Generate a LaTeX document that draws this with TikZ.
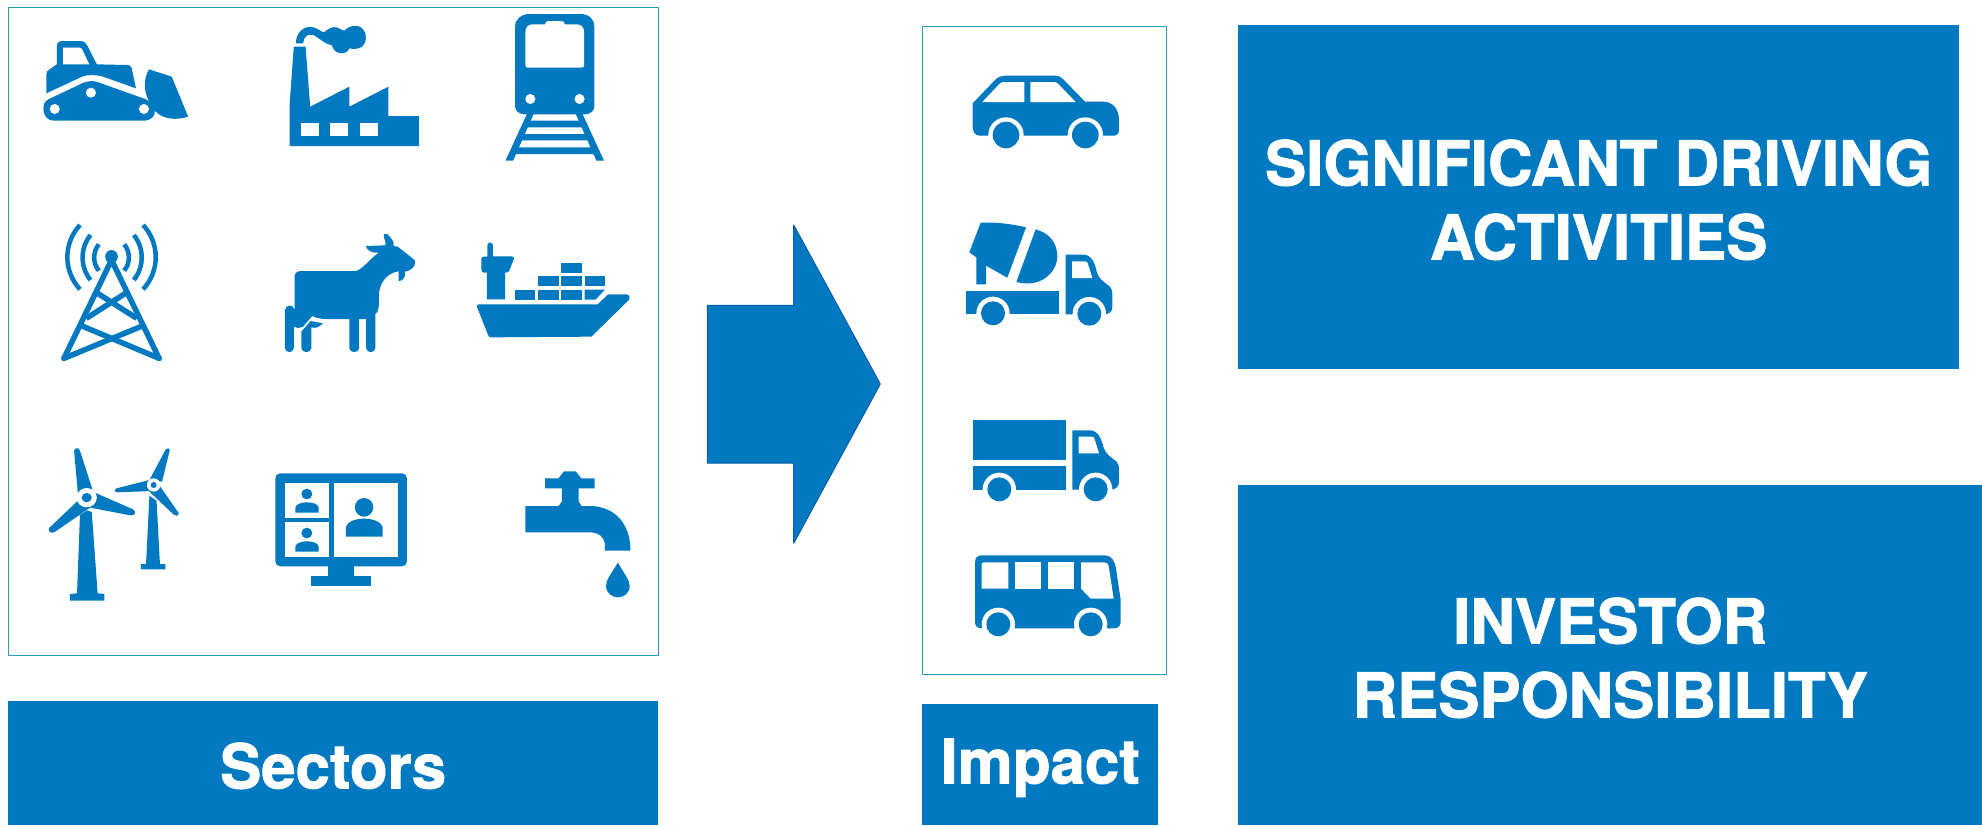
\documentclass[tikz,border=0pt]{standalone}
\usepackage{fontspec}
\setmainfont{TeX Gyre Heros}[BoldFeatures={FakeBold=1.5}]
\definecolor{brand}{HTML}{0079C1}
\definecolor{frameteal}{HTML}{2F9CBF}
\definecolor{arrowedge}{HTML}{0A5CA6}
\newcommand{\lowertext}{\rule{0pt}{51pt}}
\tikzset{
  ico/.style={fill=brand,draw=none},
  hole/.style={fill=white,draw=none},
  icoline/.style={draw=brand,fill=none},
  framebox/.style={draw=frameteal,line width=1.3pt,fill=white,rectangle,inner sep=0pt,anchor=north west},
  banner/.style={fill=brand,draw=none,rectangle,inner sep=0pt,anchor=north west,text=white,align=center,font=\fontsize{61.7}{74}\selectfont\bfseries},
  iconswide/.style={x=0.42088pt,y=-0.33333pt},
  iconsthree/.style={x=0.33333pt,y=-0.33333pt}
}
\newcommand{\wheelmark}[4]{\fill[hole] (#1,#2) circle[radius=#3]; \fill[ico] (#1,#2) circle[radius=#4];}
\begin{document}
\begin{tikzpicture}[x=1pt,y=-1pt]
\useasboundingbox (0,0) rectangle (1982,825);
% frames
\node[framebox,minimum width=650pt,minimum height=648pt] (sectorsframe) at (7.6,6.7) {};
\node[framebox,minimum width=244pt,minimum height=648pt] (impactframe) at (922,26) {};
% banners
\node[banner,minimum width=650pt,minimum height=124pt] (sectors) at (8,701) {\lowertext Sectors};
\node[banner,minimum width=236pt,minimum height=121pt] (impact) at (922,704) {\lowertext Impact};
\node[banner,minimum width=721pt,minimum height=344pt] (driving) at (1238,25) {\lowertext SIGNIFICANT DRIVING\\ACTIVITIES};
\node[banner,minimum width=744pt,minimum height=340pt] (investor) at (1238,485) {\lowertext INVESTOR\\RESPONSIBILITY};
% arrow
\fill[brand] (707.3,305.3) -- (793.7,305.3) -- (793.7,225) -- (880.3,384) -- (793.7,543.3) -- (793.7,463) -- (707.3,463) -- cycle;
\draw[arrowedge,line width=1pt,line join=bevel] (793.7,225) -- (793.7,305.3) -- (707.3,305.3) -- (707.3,463) -- (793.7,463) -- (793.7,543.3) -- (880.3,384) -- cycle;
% --- row 1
\begin{scope}[iconswide]
% bulldozer
\fill[ico] (110,280) -- (110,225) .. controls (110,215) and (112,212) .. (118,208) -- (135,193) -- (135,140) .. controls (135,128) and (140,123) .. (150,123) -- (190,123) .. controls (200,123) and (205,130) .. (208,138) -- (230,193) -- (300,195) .. controls (308,195) and (312,198) .. (313,205) -- (323,265) -- (245,230) .. controls (230,224) and (205,224) .. (195,230) -- cycle;
\fill[hole] (150,143) -- (190,143) .. controls (193,143) and (194,145) .. (195,147) -- (212,193) -- (150,193) -- cycle;
\fill[ico] (115,298) .. controls (105,305) and (103,315) .. (103,325) .. controls (103,345) and (110,362) .. (130,362) -- (340,362) .. controls (358,362) and (368,350) .. (368,335) .. controls (368,320) and (360,308) .. (347,298) -- (240,250) .. controls (225,241) and (210,241) .. (195,250) -- cycle;
\fill[hole] (130,327) ellipse[x radius=12,y radius=15];
\fill[hole] (216,278) ellipse[x radius=12,y radius=15];
\fill[hole] (342,327) ellipse[x radius=12,y radius=15];
\fill[ico] (354,208) -- (408,230) -- (447,350) .. controls (420,362) and (385,358) .. (368,332) .. controls (345,295) and (335,250) .. (354,208) -- cycle;
% factory
\fill[ico] (688,438) -- (688,315) -- (698,140) -- (726,140) -- (737,320) -- (830,260) -- (830,320) -- (923,260) -- (923,348) -- (995,348) -- (995,438) -- cycle;
\fill[hole] (715,368) rectangle (757,408);
\fill[hole] (785,368) rectangle (827,408);
\fill[hole] (855,368) rectangle (897,408);
\fill[ico] (703,130) .. controls (703,95) and (725,75) .. (745,82) .. controls (755,85) and (765,97) .. (770,97) .. controls (775,90) and (790,78) .. (800,82) .. controls (808,85) and (812,92) .. (818,92) .. controls (825,82) and (838,75) .. (850,78) .. controls (872,85) and (875,125) .. (860,140) .. controls (850,148) and (840,148) .. (830,145) .. controls (825,165) and (795,168) .. (788,135) .. controls (770,132) and (760,115) .. (745,105) .. controls (730,100) and (722,110) .. (720,130) -- cycle;
% train
\fill[ico] (1224,320) -- (1224,80) .. controls (1224,55) and (1240,42) .. (1258,42) -- (1378,42) .. controls (1398,42) and (1412,55) .. (1412,80) -- (1412,320) .. controls (1412,332) and (1402,343) .. (1390,343) -- (1246,343) .. controls (1234,343) and (1224,332) .. (1224,320) -- cycle;
\fill[hole] (1248,100) .. controls (1248,82) and (1254,73) .. (1266,73) -- (1295,73) .. controls (1295,66) and (1298,63) .. (1304,63) -- (1332,63) .. controls (1338,63) and (1342,66) .. (1342,73) -- (1370,73) .. controls (1382,73) and (1388,82) .. (1388,100) -- (1388,195) .. controls (1388,200) and (1386,203) .. (1382,203) -- (1254,203) .. controls (1250,203) and (1248,200) .. (1248,195) -- cycle;
\fill[hole] (1260,297) ellipse[x radius=12,y radius=15];
\fill[hole] (1377,297) ellipse[x radius=12,y radius=15];
\fill[ico] (1252,342) -- (1201,482) -- (1219,482) -- (1268,342) -- cycle;
\fill[ico] (1384,342) -- (1435,482) -- (1417,482) -- (1368,342) -- cycle;
\fill[ico] (1250,362) -- (1386,362) -- (1392,382) -- (1244,382) -- cycle;
\fill[ico] (1236,402) -- (1400,402) -- (1406,421) -- (1230,421) -- cycle;
\fill[ico] (1222,442) -- (1414,442) -- (1420,462) -- (1216,462) -- cycle;
\end{scope}
% --- row 2
\begin{scope}[iconswide,yshift=-210pt]
% tower
\draw[icoline,line width=5.5pt,line cap=round,line join=round] (152,445) -- (265,150) -- (378,445);
\draw[icoline,line width=5.5pt,line cap=round] (152,445) -- (338,348);
\draw[icoline,line width=5.5pt,line cap=round] (378,445) -- (195,348);
\draw[icoline,line width=5.5pt,line cap=butt] (205,325) -- (298,250);
\draw[icoline,line width=5.5pt,line cap=butt] (325,325) -- (232,250);
\fill[ico] (265,140) ellipse[x radius=15,y radius=20];
\draw[icoline,line width=4.5pt] (190,45) .. controls (150,100) and (150,183) .. (190,238);
\draw[icoline,line width=4.5pt] (215,75) .. controls (190,115) and (190,170) .. (215,210);
\draw[icoline,line width=4.5pt] (235,103) .. controls (220,125) and (220,160) .. (235,182);
\draw[icoline,line width=4.5pt] (340,45) .. controls (380,100) and (380,183) .. (340,238);
\draw[icoline,line width=4.5pt] (318,75) .. controls (343,115) and (343,170) .. (318,210);
\draw[icoline,line width=4.5pt] (295,103) .. controls (310,125) and (310,160) .. (295,182);
% goat
\fill[ico] (700,300) -- (700,200) .. controls (700,190) and (705,183) .. (715,183) -- (845,183) .. controls (860,180) and (880,145) .. (900,128) .. controls (885,130) and (872,122) .. (869,108) -- (915,106) .. controls (920,100) and (910,85) .. (912,72) .. controls (918,68) and (922,72) .. (932,90) .. controls (937,100) and (935,105) .. (935,108) -- (945,110) -- (985,150) .. controls (990,155) and (985,180) .. (962,185) -- (962,195) .. controls (962,205) and (955,213) .. (947,213) -- (947,184) .. controls (915,190) and (900,225) .. (900,260) -- (900,285) .. controls (900,300) and (895,310) .. (892,312) -- (892,415) .. controls (890,430) and (872,430) .. (870,415) -- (870,327) -- (853,327) -- (853,415) .. controls (851,430) and (832,430) .. (830,415) -- (830,327) -- (775,327) .. controls (755,327) and (745,320) .. (742,318) -- (720,350) .. controls (710,355) and (703,355) .. (698,350) -- (698,415) .. controls (695,430) and (680,430) .. (677,415) -- (677,300) .. controls (680,282) and (697,282) .. (700,300) -- cycle;
\fill[ico] (716,365) -- (738,333) -- (767,340) .. controls (758,352) and (750,356) .. (740,352) -- (740,415) .. controls (737,430) and (719,430) .. (716,415) -- cycle;
% ship
\fill[ico] (1157,268) -- (1157,188) -- (1150,188) .. controls (1146,188) and (1144,184) .. (1144,180) -- (1144,145) .. controls (1144,142) and (1147,140) .. (1150,140) -- (1158,140) -- (1158,105) .. controls (1160,95) and (1169,95) .. (1171,105) -- (1171,139) -- (1215,139) .. controls (1220,139) and (1222,142) .. (1221,146) -- (1210,182) .. controls (1208,187) and (1205,188) .. (1200,188) -- (1200,268) -- cycle;
\fill[ico] (1334,158) rectangle (1382,190);
\fill[ico] (1279,199) rectangle (1327,229);
\fill[ico] (1334,199) rectangle (1382,229);
\fill[ico] (1389,199) rectangle (1437,229);
\fill[ico] (1224,239) rectangle (1272,269);
\fill[ico] (1279,239) rectangle (1327,269);
\fill[ico] (1334,239) rectangle (1382,269);
\fill[ico] (1389,239) -- (1437,239) -- (1415,269) -- (1389,269) -- cycle;
\fill[ico] (1133,290) .. controls (1133,285) and (1135,283) .. (1138,283) -- (1420,283) -- (1445,253) -- (1488,253) .. controls (1497,255) and (1498,264) .. (1494,270) -- (1405,380) -- (1168,382) .. controls (1163,382) and (1161,380) .. (1160,376) -- cycle;
\end{scope}
% --- row 3
\begin{scope}[iconswide,yshift=-430pt]
% big turbine
\fill[ico] (176,62) .. controls (178,52) and (188,52) .. (190,62) -- (220,180) -- (185,190) -- cycle;
\fill[ico] (222,186) -- (316,238) .. controls (325,245) and (320,259) .. (310,256) -- (210,232) -- cycle;
\fill[ico] (195,200) -- (116,295) .. controls (113,305) and (123,312) .. (130,306) -- (215,232) -- cycle;
\fill[hole] (206,203) ellipse[x radius=24,y radius=29];
\fill[ico] (206,203) ellipse[x radius=12,y radius=14];
\fill[ico] (190,255) -- (207,241) -- (218,246) -- (232,490) -- (248,492) -- (248,512) -- (166,512) -- (166,492) -- (183,490) -- cycle;
% small turbine
\fill[ico] (393,60) .. controls (396,52) and (405,55) .. (403,62) -- (385,155) -- (355,150) -- cycle;
\fill[ico] (355,150) -- (277,175) .. controls (270,178) and (272,188) .. (280,187) -- (362,183) -- cycle;
\fill[ico] (378,165) -- (425,250) .. controls (425,258) and (417,260) .. (413,254) -- (355,185) -- cycle;
\fill[hole] (365,165) ellipse[x radius=16,y radius=20];
\fill[ico] (365,165) ellipse[x radius=7,y radius=9];
\fill[ico] (355,197) -- (372,212) -- (380,402) -- (393,402) -- (393,418) -- (335,418) -- (335,402) -- (347,402) -- cycle;
% monitor
\fill[ico,rounded corners=5pt] (654,130) rectangle (967,409);
\fill[hole] (678,160) rectangle (781,263);
\fill[hole] (678,277) rectangle (781,380);
\fill[hole] (793,160) rectangle (945,380);
\fill[ico] (780,405) rectangle (842,440);
\fill[ico] (740,438) rectangle (881,468);
\fill[ico] (729,192) ellipse[x radius=13,y radius=16];
\fill[ico] (702,248) -- (702,232) .. controls (705,212) and (754,212) .. (757,232) -- (757,248) -- cycle;
\fill[ico] (729,309) ellipse[x radius=13,y radius=16];
\fill[ico] (702,365) -- (702,349) .. controls (705,329) and (754,329) .. (757,349) -- (757,365) -- cycle;
\fill[ico] (865,232) ellipse[x radius=22,y radius=28];
\fill[ico] (822,320) -- (822,290) .. controls (830,258) and (900,258) .. (909,290) -- (909,320) -- cycle;
% faucet
\fill[ico] (1295,145) -- (1327,145) -- (1340,124) -- (1368,124) -- (1381,145) -- (1413,145) -- (1413,175) -- (1375,175) -- (1375,215) -- (1382,228) -- (1400,228) .. controls (1460,228) and (1498,280) .. (1498,362) -- (1437,362) -- (1437,340) .. controls (1435,320) and (1420,307) .. (1405,307) -- (1248,307) -- (1248,228) -- (1327,228) -- (1335,215) -- (1335,175) -- (1295,175) -- cycle;
\fill[ico] (1468,398) .. controls (1450,435) and (1440,450) .. (1440,468) .. controls (1440,490) and (1455,502) .. (1468,502) .. controls (1482,502) and (1496,490) .. (1496,468) .. controls (1496,450) and (1485,435) .. (1468,398) -- cycle;
\end{scope}
% --- car and mixer
\begin{scope}[iconsthree,xshift=900pt,yshift=-20pt]
\fill[ico] (218,250) -- (285,180) .. controls (295,170) and (305,167) .. (315,167) -- (465,167) .. controls (480,167) and (487,175) .. (493,181) -- (555,245) -- (610,245) .. controls (640,245) and (657,270) .. (657,300) -- (657,330) .. controls (657,342) and (650,347) .. (640,347) -- (240,347) .. controls (225,347) and (218,335) .. (218,320) -- cycle;
\fill[hole] (247,246) -- (295,195) .. controls (300,189) and (305,186) .. (312,186) -- (373,186) -- (373,246) -- cycle;
\fill[hole] (391,186) -- (462,186) .. controls (468,186) and (472,189) .. (475,192) -- (527,246) -- (391,246) -- cycle;
\wheelmark{318}{345}{53}{40}
\wheelmark{556}{345}{53}{40}
% mixer
\fill[ico] (242,608) .. controls (290,606) and (335,612) .. (378,622) -- (322,773) -- (258,737) -- (258,793) -- (229,793) -- (229,712) -- (208,697) -- cycle;
\fill[ico] (407,628) .. controls (450,640) and (472,670) .. (472,710) .. controls (470,760) and (420,805) .. (349,786) -- cycle;
\fill[ico] (198,814) rectangle (478,883);
\fill[ico] (497,704) -- (550,704) .. controls (575,704) and (585,730) .. (590,755) .. controls (595,775) and (610,785) .. (630,800) .. controls (637,808) and (637,815) .. (637,825) -- (637,860) .. controls (637,878) and (625,883) .. (610,883) -- (497,883) -- cycle;
\fill[hole] (516,724) -- (555,724) .. controls (560,724) and (562,726) .. (564,732) -- (577,774) -- (516,774) -- cycle;
\wheelmark{279}{880}{50}{36}
\wheelmark{568}{881}{50}{36}
\end{scope}
% --- truck and bus
\begin{scope}[iconsthree,xshift=900pt,yshift=-400pt]
\fill[ico] (219,61) rectangle (497,180);
\fill[ico] (219,199) rectangle (497,269);
\fill[ico] (517,91) -- (570,91) .. controls (595,91) and (605,120) .. (610,140) .. controls (615,160) and (630,170) .. (650,185) .. controls (657,193) and (657,200) .. (657,210) -- (657,245) .. controls (657,263) and (645,269) .. (630,269) -- (517,269) -- cycle;
\fill[hole] (536,110) -- (575,110) .. controls (580,110) and (582,112) .. (584,118) -- (597,160) -- (536,160) -- cycle;
\wheelmark{298}{268}{50}{36}
\wheelmark{587}{268}{50}{36}
% bus
\fill[ico] (225,490) .. controls (225,473) and (232,466) .. (245,466) -- (615,466) .. controls (635,466) and (645,485) .. (648,505) -- (662,600) -- (662,665) .. controls (662,680) and (652,685) .. (640,685) -- (245,685) .. controls (232,685) and (225,678) .. (225,665) -- cycle;
\fill[hole] (245,492) .. controls (245,489) and (247,487) .. (250,487) -- (325,487) -- (325,566) -- (245,566) -- cycle;
\fill[hole] (344,487) rectangle (424,566);
\fill[hole] (443,487) rectangle (523,566);
\fill[hole] (543,487) -- (612,487) .. controls (620,487) and (625,492) .. (626,498) -- (641,596) -- (572,596) -- (543,566) -- cycle;
\wheelmark{295}{673}{50}{36}
\wheelmark{572}{673}{50}{36}
\end{scope}
\end{tikzpicture}
\end{document}
